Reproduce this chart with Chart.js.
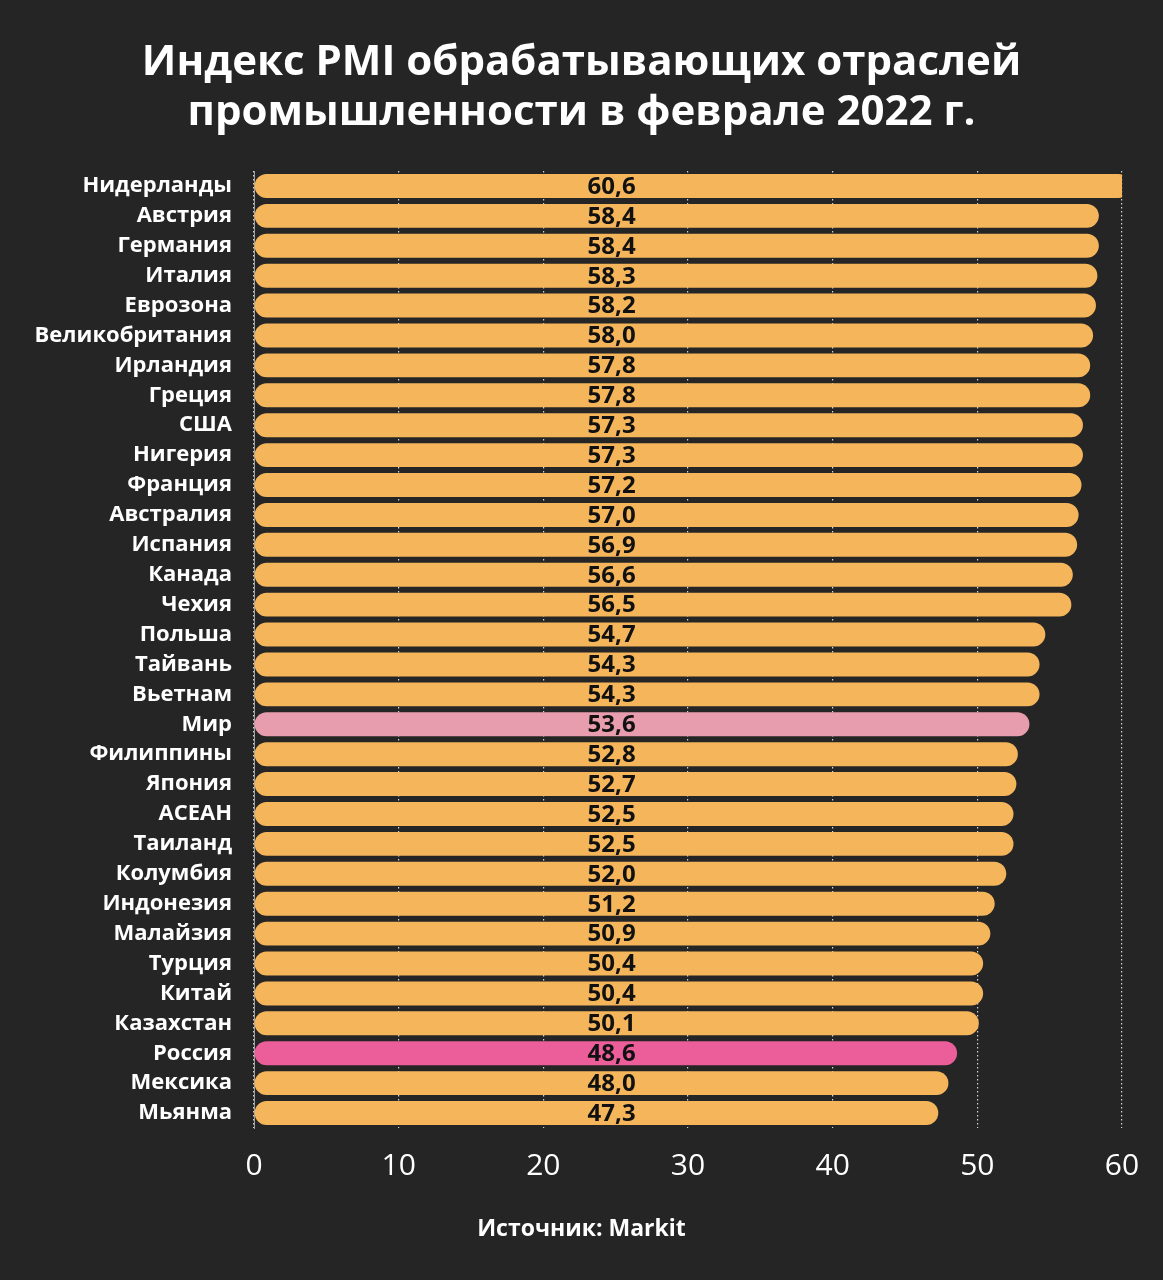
<!DOCTYPE html>
<html>
<head>
<meta charset="utf-8">
<script src="https://cdn.jsdelivr.net/npm/chart.js@4"></script>
<style>
  html, body { margin: 0; padding: 0; background: #252525; }
  #wrap { width: 1163px; height: 1280px; }
</style>
</head>
<body>
<div id="wrap"><canvas id="pmiChart" width="1163" height="1280"></canvas></div>
<script>
// PMI data, Feb 2022
const countries = ['Нидерланды','Австрия','Германия','Италия','Еврозона','Великобритания','Ирландия','Греция','США','Нигерия','Франция','Австралия','Испания','Канада','Чехия','Польша','Тайвань','Вьетнам','Мир','Филиппины','Япония','АСЕАН','Таиланд','Колумбия','Индонезия','Малайзия','Турция','Китай','Казахстан','Россия','Мексика','Мьянма'];
const pmi = [60.6, 58.4, 58.4, 58.3, 58.2, 58.0, 57.8, 57.8, 57.3, 57.3, 57.2, 57.0, 56.9, 56.6, 56.5, 54.7, 54.3, 54.3, 53.6, 52.8, 52.7, 52.5, 52.5, 52.0, 51.2, 50.9, 50.4, 50.4, 50.1, 48.6, 48.0, 47.3];
const xTicks = [0, 10, 20, 30, 40, 50, 60];
const titleLines = ['Индекс PMI обрабатывающих отраслей', 'промышленности в феврале 2022 г.'];
const sourceText = 'Источник: Markit';

const FONT = '"Open Sans", "Noto Sans", sans-serif';
const barColors = countries.map(c => c === 'Мир' ? '#e89dae' : (c === 'Россия' ? '#ec5e9a' : '#f5b65b'));

// value labels in one column + title and source centred on the page
const extras = {
  id: 'extras',
  afterDatasetsDraw(chart) {
    const ctx = chart.ctx;
    const area = chart.chartArea;
    const x = area.left + (area.right - area.left) * 0.412;
    ctx.save();
    ctx.font = 'bold 24px ' + FONT;
    ctx.fillStyle = '#111';
    ctx.textAlign = 'center';
    ctx.textBaseline = 'middle';
    chart.getDatasetMeta(0).data.forEach((bar, i) => {
      ctx.fillText(pmi[i].toFixed(1).replace('.', ','), x, bar.y + 1);
    });
    ctx.restore();
  },
  afterDraw(chart) {
    const ctx = chart.ctx;
    const cx = chart.width / 2;
    ctx.save();
    ctx.fillStyle = '#fff';
    ctx.textAlign = 'center';
    ctx.textBaseline = 'middle';
    ctx.font = 'bold 42px ' + FONT;
    ctx.fillText(titleLines[0], cx, 63);
    ctx.fillText(titleLines[1], cx, 113);
    ctx.font = 'bold 23px ' + FONT;
    ctx.fillText(sourceText, cx, 1229);
    ctx.restore();
  }
};

new Chart(document.getElementById('pmiChart').getContext('2d'), {
  type: 'bar',
  data: {
    labels: countries,
    datasets: [{
      data: pmi,
      backgroundColor: barColors,
      borderRadius: 13,
      borderSkipped: false,
      barPercentage: 0.8,
      categoryPercentage: 1
    }]
  },
  options: {
    indexAxis: 'y',
    responsive: false,
    animation: false,
    layout: { padding: { left: 0, right: 41, top: 171, bottom: 98 } },
    plugins: {
      legend: { display: false },
      tooltip: { enabled: false }
    },
    scales: {
      x: {
        min: 0,
        max: 60,
        afterBuildTicks: s => { s.ticks = xTicks.map(v => ({ value: v })); },
        afterFit: s => { s.height = 54; },
        ticks: { color: '#fff', font: { family: FONT, size: 30 }, padding: 20 },
        grid: {
          color: 'rgba(255,255,255,0.8)',
          lineWidth: 1.2,
          drawTicks: false
        },
        border: { display: false, dash: [1.5, 2.5] }
      },
      y: {
        afterFit: s => { s.width = 254; },
        ticks: { color: '#fff', font: { family: FONT, size: 22, weight: 'bold' }, padding: 22, autoSkip: false },
        grid: { display: false, drawTicks: false },
        border: { display: true, color: '#a0a0a0', width: 1 }
      }
    }
  },
  plugins: [extras]
});
</script>
</body>
</html>
